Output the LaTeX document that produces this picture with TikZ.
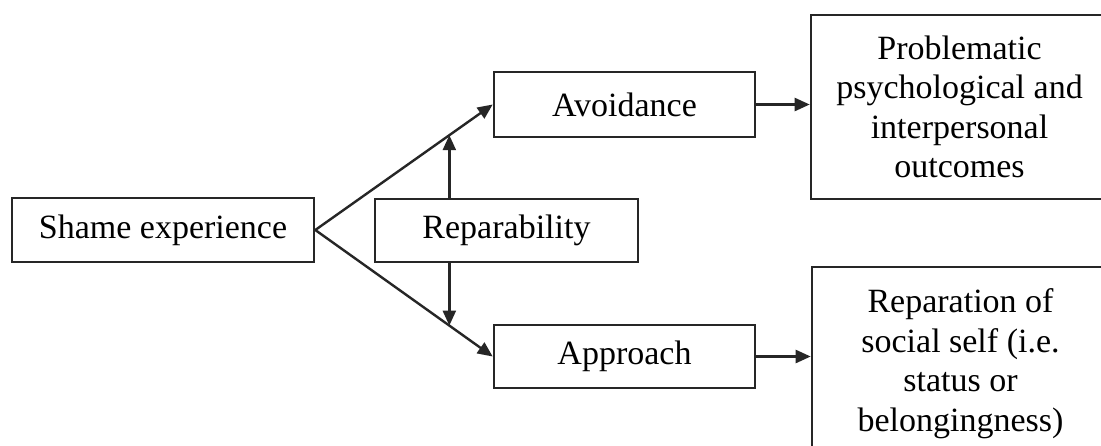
\documentclass[tikz,border=0pt]{standalone}
\usepackage{fontspec}
\setmainfont{Liberation Serif}
\usetikzlibrary{arrows.meta,calc}
\begin{document}
\begin{tikzpicture}[x=1pt,y=-1pt,
  box/.style={draw=black!85, line width=2.6pt, inner sep=0pt, align=center,
    font=\fontsize{34}{39.5}\selectfont},
  conn/.style={draw=black!85, line width=2.4pt, -{Triangle[length=15pt,width=13pt]}}]
\useasboundingbox (0,0) rectangle (1101,445);
\clip (0,0) rectangle (1101,445);
\fill[white] (0,0) rectangle (1101,445);
\node[box, minimum width=302pt, minimum height=64pt] (shame) at (163,230) {Shame experience};
\node[box, minimum width=263pt, minimum height=63pt] (rep) at (506.5,230.5) {Reparability};
\node[box, minimum width=261pt, minimum height=65pt] (avoid) at (624.5,104.5) {Avoidance};
\node[box, minimum width=261pt, minimum height=63pt] (appr) at (624.5,356.5) {Approach};
\node[box, minimum width=297pt, minimum height=184pt] (prob) at (959.5,107) {Problematic\\psychological and\\interpersonal\\outcomes};
\node[box, minimum width=297pt, minimum height=193pt] (repar) at (960.5,363.5) {Reparation of\\social self (i.e.\\status or\\belongingness)};
\draw[conn] (shame.east) -- (avoid.west);
\draw[conn] (shame.east) -- (appr.west);
\coordinate (t1) at ($(shame.east)!0.7556!(avoid.west)$);
\coordinate (t2) at ($(shame.east)!0.7556!(appr.west)$);
\draw[conn] (rep.north -| t1) -- (t1);
\draw[conn] (rep.south -| t2) -- (t2);
\draw[conn] (avoid.east) -- (prob.west |- avoid.east);
\draw[conn] (appr.east) -- (repar.west |- appr.east);
\end{tikzpicture}
\end{document}
